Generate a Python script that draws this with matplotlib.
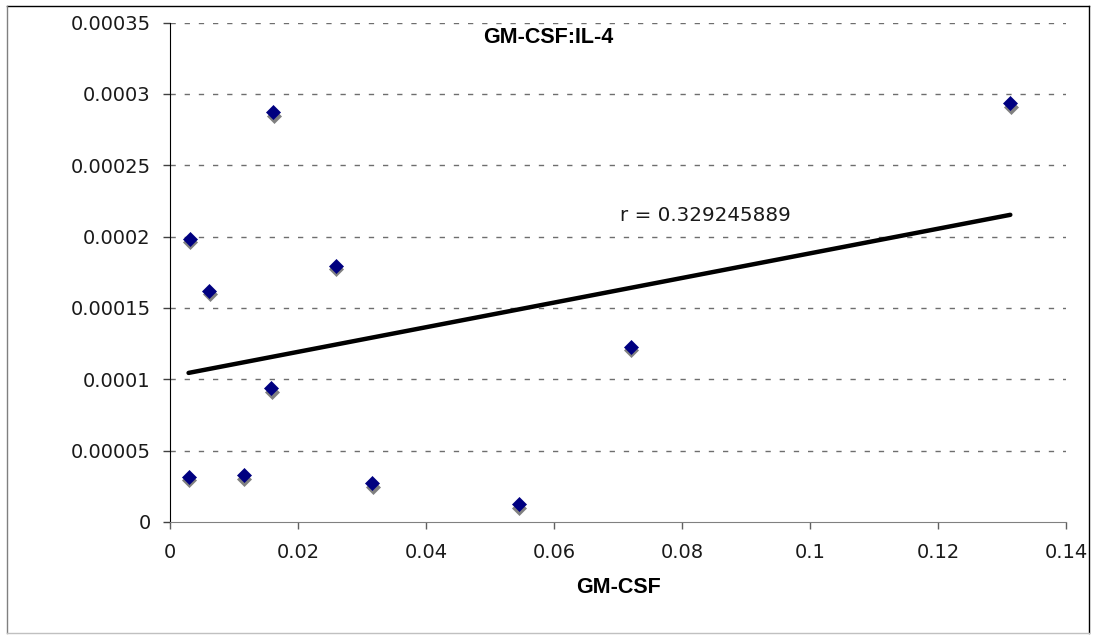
"""
Scatter of GM-CSF against the GM-CSF:IL-4 ratio with a least-squares trend line.
"""

import matplotlib

matplotlib.use("Agg")
import matplotlib.pyplot as plt
import matplotlib.transforms as mtransforms
import numpy as np
from matplotlib.lines import Line2D

gm_csf = [0.0031, 0.0061, 0.0259, 0.0158, 0.0161, 0.1313,
          0.0720, 0.0545, 0.0029, 0.0115, 0.0316]
ratio = [0.0001985, 0.000162, 0.0001797, 0.0000938, 0.000287, 0.0002936,
         0.0001229, 0.0000124, 0.0000318, 0.0000327, 0.0000271]

x_ticks = [0, 0.02, 0.04, 0.06, 0.08, 0.1, 0.12, 0.14]
x_tick_labels = ["0", "0.02", "0.04", "0.06", "0.08", "0.1", "0.12", "0.14"]
y_ticks = [0, 0.00005, 0.0001, 0.00015, 0.0002, 0.00025, 0.0003, 0.00035]
y_tick_labels = ["0", "0.00005", "0.0001", "0.00015", "0.0002",
                 "0.00025", "0.0003", "0.00035"]

title = "GM-CSF:IL-4"
x_label = "GM-CSF"
r_label = "r = 0.329245889"

NAVY = "#000080"
SHADOW = "#808080"


def main():
    plt.rcParams["font.family"] = "DejaVu Sans"
    fig = plt.figure(figsize=(10.94, 6.35), dpi=100)
    ax = fig.add_axes([0.1554, 0.178, 0.819, 0.7865])

    x = np.array(gm_csf)
    y = np.array(ratio)

    # linear trend line over the data range
    slope, intercept = np.polyfit(x, y, 1)
    x_fit = np.array([x.min(), x.max()])
    ax.plot(x_fit, slope * x_fit + intercept, color="black", lw=3.2,
            solid_capstyle="round", zorder=3)

    # markers with a drop shadow
    shadow = mtransforms.offset_copy(ax.transData, fig=fig, x=0.5, y=-3.5,
                                     units="dots")
    ax.plot(x, y, "D", color=SHADOW, ms=7, mew=0.5, transform=shadow,
            zorder=4, clip_on=False)
    ax.plot(x, y, "D", color=NAVY, ms=7, mew=0.5, zorder=5, clip_on=False)

    ax.set_xlim(0, 0.14)
    ax.set_ylim(0, 0.00035)
    ax.set_xticks(x_ticks)
    ax.set_xticklabels(x_tick_labels)
    ax.set_yticks(y_ticks)
    ax.set_yticklabels(y_tick_labels)

    for yv in y_ticks[1:]:
        ax.axhline(yv, color="#6e6e6e", lw=1, dashes=(3.8, 6.4), zorder=1)

    for side in ("top", "right"):
        ax.spines[side].set_visible(False)
    ax.spines["left"].set_color("black")
    ax.spines["bottom"].set_color("#808080")
    ax.tick_params(axis="y", direction="out", length=5, width=1,
                   color="#404040", labelsize=14, pad=9, labelcolor="#1a1a1a")
    ax.tick_params(axis="x", direction="out", length=5, width=1,
                   color="#606060", labelsize=14, pad=10, labelcolor="#1a1a1a")

    ax.set_xlabel(x_label, fontsize=15.5, fontweight="bold",
                  family="Liberation Sans", labelpad=11)
    ax.text(0.4224, 0.971, title, transform=ax.transAxes, ha="center",
            va="center", fontsize=15.5, fontweight="bold",
            family="Liberation Sans")
    ax.text(0.0703, 0.000215, r_label, ha="left", va="center", fontsize=14.3,
            color="#1a1a1a")

    # chart frame
    l, r, b, t = 6.5 / 1094, 1088.5 / 1094, 1 - 632.5 / 635, 1 - 5.5 / 635
    fig.add_artist(Line2D([l, r], [t, t], color="black", lw=1))
    fig.add_artist(Line2D([r, r], [b, t], color="black", lw=1))
    fig.add_artist(Line2D([l, l], [b, t], color="#808080", lw=1))
    fig.add_artist(Line2D([l, r], [b, b], color="#c0c0c0", lw=1))

    fig.savefig("out.png", dpi=100)


if __name__ == "__main__":
    main()
